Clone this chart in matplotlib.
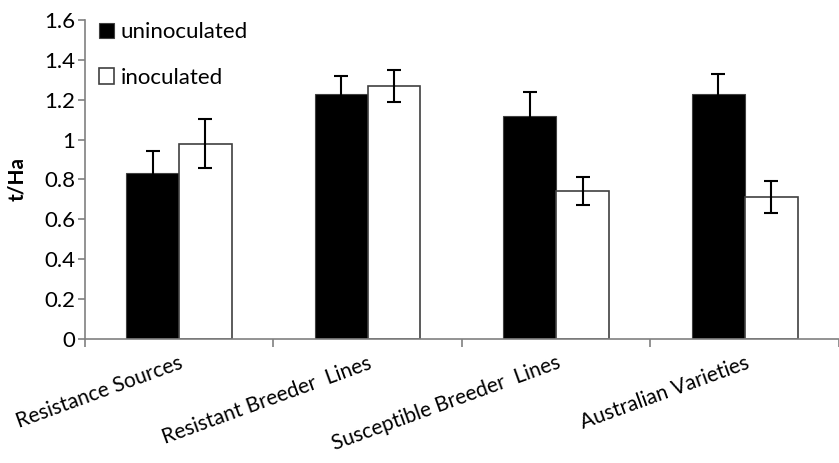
import numpy as np
import matplotlib.pyplot as plt

plt.rcParams['font.family'] = ['Lato', 'DejaVu Sans']

categories = ['Resistance Sources', 'Resistant Breeder  Lines',
              'Susceptible Breeder  Lines', 'Australian Varieties']
uninoculated = [0.83, 1.23, 1.12, 1.23]
uninoculated_err = [0.11, 0.09, 0.12, 0.10]
inoculated = [0.98, 1.27, 0.74, 0.71]
inoculated_err = [0.125, 0.08, 0.07, 0.08]

x = np.arange(len(categories))
w = 0.28

fig = plt.figure(figsize=(8.39, 4.63), dpi=100)
ax = fig.add_axes([0.101, 0.268, 0.899, 0.689])

ekw = dict(ecolor='black', capsize=5, elinewidth=1.5, capthick=1.5)
ax.bar(x - w / 2, uninoculated, w, color='black', edgecolor='#404040', linewidth=0.8,
       yerr=uninoculated_err, error_kw=ekw, label='uninoculated', zorder=2)
ax.bar(x + w / 2, inoculated, w, color='white', edgecolor='#404040', linewidth=1.2,
       yerr=inoculated_err, error_kw=ekw, label='inoculated', zorder=2)

ax.set_xlim(-0.5, len(categories) - 0.5)
ax.set_ylim(0, 1.6)
ax.set_yticks(np.arange(0, 1.61, 0.2))
ax.set_yticklabels(['0', '0.2', '0.4', '0.6', '0.8', '1', '1.2', '1.4', '1.6'])

ax.set_xticks(x)
ax.set_xticklabels(categories, rotation=20, ha='right', rotation_mode='anchor')
ax.set_xticks(np.arange(-0.5, len(categories), 1.0), minor=True)
ax.tick_params(axis='x', which='major', length=0, pad=10, labelsize=15)
ax.tick_params(axis='x', which='minor', length=6, color='#808080', width=1.2)
ax.tick_params(axis='y', length=5, color='#808080', width=1.2, labelsize=16, pad=2)

for s in ['top', 'right']:
    ax.spines[s].set_visible(False)
for s in ['left', 'bottom']:
    ax.spines[s].set_color('#808080')
    ax.spines[s].set_linewidth(1.2)

ax.set_ylabel('t/Ha', fontsize=15, fontweight='bold', labelpad=12)

ax.legend(loc='upper left', bbox_to_anchor=(-0.008, 1.055), frameon=False, fontsize=16,
          handlelength=0.7, handleheight=0.7, handletextpad=0.3, labelspacing=1.15)

plt.savefig('out.png', dpi=100)
